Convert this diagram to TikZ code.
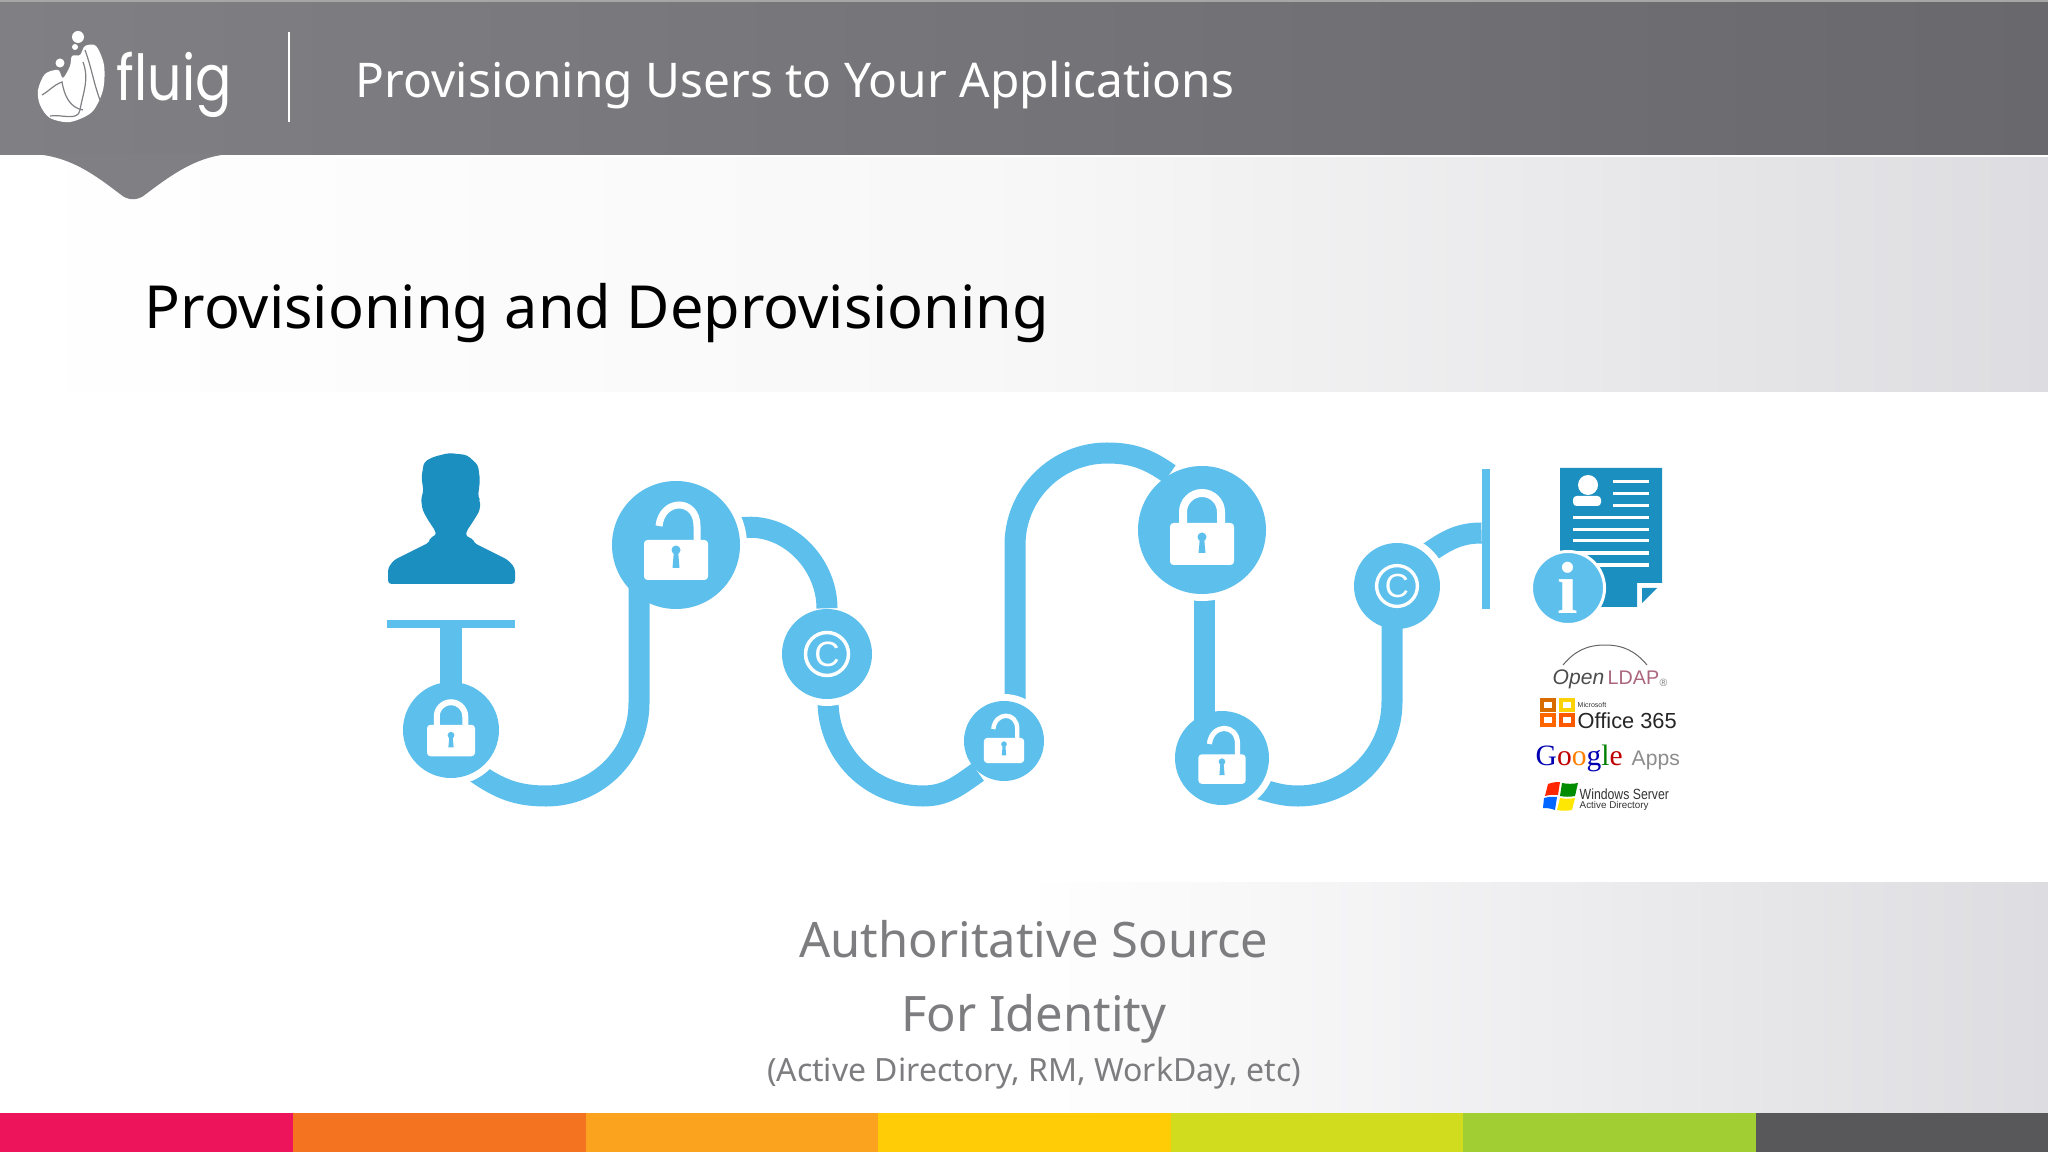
\documentclass[tikz,border=0pt]{standalone}
\usepackage{fontspec}
\setmainfont{Noto Sans}
\newfontfamily\logofont{Poppins}
\newfontfamily\arialfont{Liberation Sans}
\newfontfamily\timesfont{Liberation Serif}
\usetikzlibrary{backgrounds}
\definecolor{headleft}{RGB}{128,128,132}
\definecolor{headright}{RGB}{104,104,109}
\definecolor{pathblue}{RGB}{93,191,236}
\definecolor{darkblue}{RGB}{27,143,192}
\definecolor{bandgray}{RGB}{221,221,225}
\definecolor{sourcegray}{RGB}{125,125,128}
\tikzset{
	pathline/.style={pathblue, line width=.21cm},
	pathdisc/.style={circle, fill=pathblue, inner sep=0pt},
	closedlock/.pic={
		\begin{scope}[scale=#1]
			\draw[white, line width=8*#1*.01cm] (-19,7) -- (-19,18) arc (180:0:19) -- (19,7);
			\fill[white, rounded corners=1pt] (-32,-35) rectangle (32,7);
			\fill[pathblue] (0,-7) circle (4.5);
			\fill[pathblue] (-2,-7) -- (2,-7) -- (3.5,-23) -- (-3.5,-23) -- cycle;
		\end{scope}
	},
	openlock/.pic={
		\begin{scope}[scale=#1]
			\draw[white, line width=7*#1*.01cm] (-17,19) .. controls (-14,47) and (21,47) .. (21,19) -- (21,0);
			\fill[white, rounded corners=1pt] (-32,-35) rectangle (32,5);
			\fill[pathblue] (0,-5) circle (4.5);
			\fill[pathblue] (-2,-5) -- (2,-5) -- (3.5,-23) -- (-3.5,-23) -- cycle;
		\end{scope}
	},
	copyring/.pic={
		\draw[white, line width=3.5*#1*.01cm] (0,0) circle (21.5*#1);
	},
	copytext/.style={text=white, inner sep=0pt, font=\arialfont\fontsize{#1}{12}\selectfont},
	titletext/.style={anchor=base west, inner sep=0pt, font=\fontsize{16.9}{20}\selectfont},
	sourcetext/.style={anchor=base, inner sep=0pt, text=sourcegray},
	logotext/.style={anchor=base west, inner sep=0pt},
}
\newcommand{\gapring}[2]{\fill[white] (#1) circle (#2+7);}

\begin{document}
\begin{tikzpicture}[x=.01cm,y=.01cm]
	\useasboundingbox (0,0) rectangle (2048,-1152);

	% stops along the path
	\foreach \name/\x/\y/\r in {lock1/451/730/96, unlock1/676/545/128, copy1/827/654/90, unlock2/1004/741/80, lock2/1202/530/128, unlock3/1222/758/94, copy2/1397/586/86}{
		\node[pathdisc, minimum size=\r*.01cm] (\name) at (\x,-\y) {};
	}
	\pic at (lock1) {closedlock=.75};
	\pic at (unlock1) {openlock=1};
	\pic at (copy1) {copyring=1};
	\pic at (unlock2) {openlock=.63};
	\pic at (lock2) {closedlock=1};
	\pic at (unlock3) {openlock=.74};
	\pic at (copy2) {copyring=.95};
	\node[copytext=10] (copy1c) at (copy1) {C};
	\node[copytext=9.5] (copy2c) at (copy2) {C};

	\node[fill=pathblue, inner sep=0pt, minimum width=1.27cm, minimum height=.08cm] (tbar) at (451,-624) {};
	\node[fill=pathblue, inner sep=0pt, minimum width=.075cm, minimum height=1.39cm] (endbar) at (1486,-539) {};

	\begin{scope}[on background layer]
		\shade[left color=white, right color=bandgray, middle color=black!3] (0,-158) rectangle (2048,-392);
		\shade[left color=white, right color=bandgray, middle color=white] (0,-882) rectangle (2048,-1112);

		\draw[pathline] (copy2.47) to[out=35,in=180] ([yshift=.06cm]endbar.west);
		\gapring{copy2}{43}
		\draw[pathline] (unlock3.-40) to[out=-15,in=180] (1298,-796) arc[start angle=-90, end angle=0, radius=94] coordinate (f2) -- (f2 |- copy2);
		\gapring{unlock3}{47}
		\coordinate (e1) at (1204,-600);
		\draw[pathline] (e1 |- lock2) -- (e1 |- unlock3);
		\gapring{lock2}{64}
		\coordinate (d1) at (1015,-545);
		\draw[pathline] (d1 |- unlock2) -- (d1) arc[start angle=180, end angle=90, radius=92] to[out=0,in=145] (lock2.120);
		\gapring{unlock2}{40}
		\draw[pathline] (copy1.south) -- (828,-701) to[out=-90,in=180] (923,-796) to[out=0,in=-145] (unlock2.-130);
		\gapring{copy1}{45}
		\draw[pathline] (unlock1.15) to[out=10,in=90] (copy1);
		\gapring{unlock1}{64}
		\draw[pathline] (lock1.-60) to[out=-35,in=180] (546,-796) arc[start angle=-90, end angle=0, radius=93] coordinate (a2) -- (a2 |- unlock1);
		\gapring{lock1}{48}
		\draw[pathblue, line width=.22cm] (tbar.center) -- (lock1.center);
	\end{scope}

	% header
	\shade[left color=headleft, right color=headright] (0,0) rectangle (2048,-155);
	\fill[black!35] (0,0) rectangle (2048,-2);
	\fill[headleft] (33,-154) .. controls (70,-156) and (95,-175) .. (120,-194) .. controls (128,-201) and (138,-201) .. (146,-194) .. controls (175,-172) and (200,-155) .. (233,-154) -- cycle;
	\draw[white, line width=.015cm] (289,-32) -- (289,-122);
	\node[titletext, text=white, font=\fontsize{13.6}{17}\selectfont] (headline) at (355,-98) {Provisioning Users to Your Applications};
	\node[logotext, text=white, font=\logofont\fontsize{18}{22}\selectfont] (fluig) at (116,-101) {\scalebox{.85}[1]{fluig}};
	\fill[white] plot[smooth cycle] coordinates {(38,-90) (45,-74) (58,-70) (63,-78) (70,-66) (72,-56) (80,-55) (85,-46) (96,-46) (104,-65) (103,-90) (92,-112) (70,-122) (50,-118) (40,-105)};
	\foreach \x/\y/\r in {78/37/6, 75/47/3, 60/63/4.5}{
		\fill[white] (\x,-\y) circle (\r);
	}
	\draw[headleft, line width=.012cm] (42,-95) to[out=30,in=200] (62,-82) to[out=-80,in=170] (83,-110);
	\draw[headleft, line width=.012cm] (83,-62) to[out=-70,in=80] (80,-110) to[out=-100,in=10] (50,-116);
	\draw[headleft, line width=.012cm] (85,-50) to[out=-70,in=110] (100,-100);

	\node[titletext] (pagetitle) at (144,-329) {Provisioning and Deprovisioning};

	% person
	\fill[darkblue, rounded corners=1pt] (388,-584) -- (388,-568) -- (394,-560) -- (430,-542) -- (430,-537) -- (436,-536) -- (436,-532) -- (428,-520) -- (422.5,-510) -- (421,-498) -- (423.5,-492) -- (421.5,-477) -- (424,-462) -- (433,-457) -- (449,-453) -- (467,-455) -- (478,-465) -- (480,-480) -- (478,-497) -- (480,-500) -- (480,-510) -- (474,-520) -- (466,-532) -- (466,-537) -- (472.5,-538) -- (474,-543) -- (508,-560) -- (515,-568) -- (515,-584) -- cycle;

	% document
	\fill[darkblue] (1560,-468) -- (1662,-468) -- (1662,-583) -- (1637,-583) -- (1637,-607) -- (1560,-607) -- cycle;
	\fill[darkblue] (1642,-588) -- (1657,-588) -- (1642,-603) -- cycle;
	\fill[white] (1588,-485) circle (10);
	\fill[white, rounded corners=1pt] (1573,-496) rectangle (1601,-506);
	\foreach \y in {482,494,506}{
		\draw[white, line width=.03cm] (1613,-\y) -- (1649,-\y);
	}
	\foreach \y in {518,530,541,553,565}{
		\draw[white, line width=.03cm] (1573,-\y) -- (1649,-\y);
	}
	\node[circle, fill=pathblue, draw=white, line width=.03cm, inner sep=0pt, minimum size=.73cm, text=white, font=\timesfont\bfseries\fontsize{21}{21}\selectfont] (info) at (1568,-588) {i};

	% directory logos
	\draw[black!60, line width=.01cm] (1563,-665) to[out=50,in=180] (1605,-645) to[out=0,in=130] (1647,-665);
	\node[logotext, text=black!70, font=\arialfont\itshape\fontsize{6}{7}\selectfont] (ldapopen) at (1552,-684) {Open};
	\node[logotext, text=black!40!purple!60, font=\arialfont\fontsize{5.6}{7}\selectfont] (ldapname) at (1607,-684) {LDAP};
	\node[logotext, text=black!50, font=\arialfont\fontsize{3}{4}\selectfont] (ldapreg) at (1659,-686) {®};

	\foreach \x/\y/\tone in {1540/698/orange!85!black, 1559/698/yellow!70!orange, 1540/713/orange!80!red, 1559/713/orange!70!red}{
		\draw[\tone, line width=.035cm] (\x+2,-\y-2) rectangle (\x+14,-\y-12);
	}
	\node[logotext, text=black!80, font=\arialfont\fontsize{2}{3}\selectfont] (microsoft) at (1577,-707) {Microsoft};
	\node[logotext, text=black!85, font=\arialfont\fontsize{6.2}{7}\selectfont] (office) at (1577,-728) {Office 365};

	\node[logotext, font=\timesfont\fontsize{8.4}{9}\selectfont] (google) at (1535,-765) {\textcolor{blue!70!black}{G}\textcolor{red!75!black}{o}\textcolor{orange}{o}\textcolor{blue!70!black}{g}\textcolor{green!50!black}{l}\textcolor{red!75!black}{e}};
	\node[logotext, text=black!45, font=\arialfont\fontsize{6}{7}\selectfont] (apps) at (1631,-765) {Apps};

	\begin{scope}[yshift=.02cm]
		\fill[red!70!orange] (1548,-786) to[bend left=10] (1560,-784) -- (1558,-797) to[bend right=10] (1545,-798) -- cycle;
		\fill[green!55!black] (1562,-785) to[bend right=10] (1578,-785) -- (1575,-798) to[bend left=10] (1560,-798) -- cycle;
		\fill[blue!60!cyan] (1544,-800) to[bend left=10] (1557,-799) -- (1555,-812) to[bend right=10] (1543,-810) -- cycle;
		\fill[yellow!90!orange] (1560,-800) to[bend right=10] (1575,-800) -- (1572,-812) to[bend left=10] (1557,-812) -- cycle;
	\end{scope}
	\node[logotext, text=black!80, font=\arialfont\fontsize{4.2}{5}\selectfont] (winserver) at (1579,-799) {\scalebox{.83}[1]{Windows Server}};
	\node[logotext, text=black!80, font=\arialfont\fontsize{2.8}{4}\selectfont] (activedir) at (1579,-808) {Active Directory};

	% caption
	\node[sourcetext, font=\fontsize{13.9}{16}\selectfont] (source1) at (1034,-957) {Authoritative Source};
	\node[sourcetext, font=\fontsize{13.9}{16}\selectfont] (source2) at (1034,-1031) {For Identity};
	\node[sourcetext, font=\fontsize{9.1}{12}\selectfont] (source3) at (1034,-1081) {(Active Directory, RM, WorkDay, etc)};

	% colour bar
	\foreach \x/\tone in {0/{rgb,255:red,237;green,20;blue,91}, 293/{rgb,255:red,244;green,115;blue,33}, 586/{rgb,255:red,251;green,163;blue,30}, 878/{rgb,255:red,255;green,204;blue,5}, 1171/{rgb,255:red,210;green,220;blue,30}, 1463/{rgb,255:red,161;green,206;blue,50}, 1756/{rgb,255:red,88;green,88;blue,90}}{
		\fill[color=\tone] (\x,-1113) rectangle (\x+293,-1152);
	}
\end{tikzpicture}
\end{document}
